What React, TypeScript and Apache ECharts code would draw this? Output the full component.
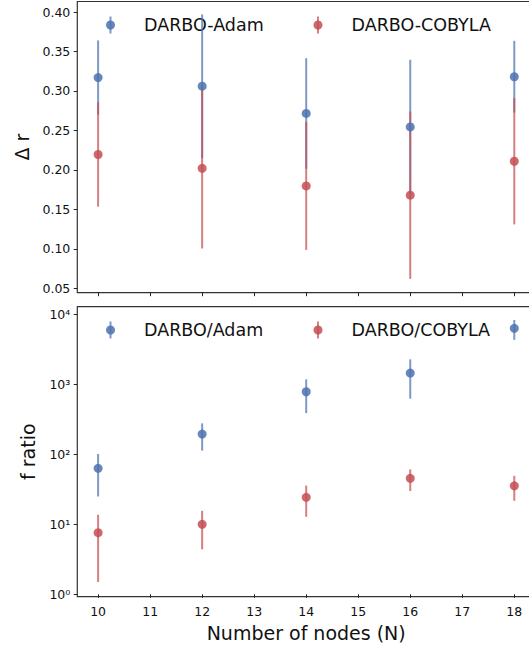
import React, { useEffect, useRef } from "react";
import * as echarts from "echarts";

const nodes = [10, 12, 14, 16, 18];
const adamDr = [0.317, 0.306, 0.2715, 0.2545, 0.318];
const adamDrErr = [0.047, 0.091, 0.07, 0.085, 0.0455];
const cobylaDr = [0.2195, 0.202, 0.1797, 0.168, 0.211];
const cobylaDrErr = [0.066, 0.1015, 0.081, 0.106, 0.08];

const adamF = [63, 195, 783, 1449, 6310];
const adamFErr = [38, 82, 395, 826, 1990];
const cobylaF = [7.6, 10, 24.3, 45.4, 35.5];
const cobylaFErr = [6.1, 5.6, 11.5, 15.5, 13.8];

const xTicks = [10, 11, 12, 13, 14, 15, 16, 17, 18];
const drTicks = [0.05, 0.1, 0.15, 0.2, 0.25, 0.3, 0.35, 0.4];
const logTicks = [0, 1, 2, 3, 4];
const supers = ["⁰", "¹", "²", "³", "⁴"];

const BLUE = "#4c72b0";
const RED = "#c44e52";
const FONT = "DejaVu Sans";

export default function App() {
  const ref = useRef<HTMLDivElement>(null);
  useEffect(() => {
    if (!ref.current) return;
    const chart = echarts.init(ref.current, undefined, { renderer: "svg" });

    const minorTicks: number[] = [];
    for (let n = 0; n <= 3; n++) {
      for (let k = 2; k <= 9; k++) minorTicks.push(Math.log10(k * Math.pow(10, n)));
    }

    const errSeries = (
      name: string,
      xi: number,
      yi: number,
      data: number[][],
      color: string
    ) => ({
      type: "custom",
      name,
      xAxisIndex: xi,
      yAxisIndex: yi,
      data,
      encode: { x: 0, y: [1, 2] },
      z: 2,
      renderItem: (params: any, api: any) => {
        const x = api.value(0);
        const p1 = api.coord([x, api.value(1)]);
        const p2 = api.coord([x, api.value(2)]);
        return {
          type: "line",
          shape: { x1: p1[0], y1: p1[1], x2: p2[0], y2: p2[1] },
          style: { stroke: color, lineWidth: 2, opacity: 0.72 },
        };
      },
    });

    const pts = (name: string, xi: number, yi: number, data: number[][], color: string) => ({
      type: "scatter",
      name,
      xAxisIndex: xi,
      yAxisIndex: yi,
      data,
      symbol: "circle",
      symbolSize: 9,
      itemStyle: { color, opacity: 0.85 },
      z: 3,
    });

    const lg = (v: number) => Math.log10(v);

    const xAxisBase = (gi: number, showLabels: boolean) => ({
      type: "value",
      gridIndex: gi,
      min: 9.6,
      max: 18.4,
      axisLine: { show: false },
      splitLine: { show: false },
      axisTick: {
        show: true,
        customValues: xTicks,
        length: 3.5,
        lineStyle: { color: "#222", width: 1 },
      },
      axisLabel: {
        show: showLabels,
        customValues: xTicks,
        margin: 8,
        fontFamily: FONT,
        fontSize: 12.5,
        color: "#111",
      },
    });

    const legendItem = (x: number, y: number, color: string, label: string) => ({
      type: "group",
      children: [
        {
          type: "line",
          shape: { x1: x, y1: y - 8.5, x2: x, y2: y + 8.5 },
          style: { stroke: color, lineWidth: 2, opacity: 0.72 },
        },
        {
          type: "circle",
          shape: { cx: x, cy: y, r: 4.5 },
          style: { fill: color, opacity: 0.85 },
        },
        {
          type: "text",
          x: x + 33.5,
          y: y,
          style: {
            text: label,
            fontFamily: FONT,
            fontSize: 17.5,
            fill: "#111",
            verticalAlign: "middle",
            align: "left",
          },
        },
      ],
    });

    const gridBase = {
      left: 77.3,
      width: 457.8,
      show: true,
      borderColor: "#333",
      borderWidth: 1.2,
      backgroundColor: "transparent",
      containLabel: false,
      outerBoundsMode: "none",
    };

    chart.setOption({
      animation: false,
      backgroundColor: "#ffffff",
      grid: [
        { ...gridBase, top: 1.5, height: 291.2 },
        { ...gridBase, top: 306.7, height: 290 },
      ],
      xAxis: [
        xAxisBase(0, false),
        {
          ...xAxisBase(1, true),
          name: "Number of nodes (N)",
          nameLocation: "middle",
          nameGap: 27,
          nameTextStyle: { fontFamily: FONT, fontSize: 19, color: "#111" },
        },
      ],
      yAxis: [
        {
          type: "value",
          gridIndex: 0,
          min: 0.0445,
          max: 0.4133,
          name: "Δ r",
          nameLocation: "middle",
          nameGap: 46,
          nameRotate: 90,
          nameTextStyle: { fontFamily: FONT, fontSize: 19, color: "#111" },
          axisLine: { show: false },
          splitLine: { show: false },
          axisTick: {
            show: true,
            customValues: drTicks,
            length: 3.5,
            lineStyle: { color: "#222", width: 1 },
          },
          axisLabel: {
            customValues: drTicks,
            margin: 7,
            fontFamily: FONT,
            fontSize: 12.5,
            color: "#111",
            formatter: (v: number) => v.toFixed(2),
          },
        },
        {
          type: "value",
          gridIndex: 1,
          min: -0.034,
          max: 4.109,
          name: "f ratio",
          nameLocation: "middle",
          nameGap: 40,
          nameRotate: 90,
          nameTextStyle: { fontFamily: FONT, fontSize: 19, color: "#111" },
          axisLine: { show: false },
          splitLine: { show: false },
          axisTick: {
            show: true,
            customValues: logTicks,
            length: 3.5,
            lineStyle: { color: "#222", width: 1 },
          },
          axisLabel: {
            customValues: logTicks,
            margin: 7,
            fontFamily: FONT,
            fontSize: 12.5,
            color: "#111",
            formatter: (v: number) => "10" + supers[Math.round(v)],
          },
        },
        {
          type: "value",
          gridIndex: 1,
          min: -0.034,
          max: 4.109,
          axisLine: { show: false },
          splitLine: { show: false },
          axisTick: {
            show: true,
            customValues: minorTicks,
            length: 2,
            lineStyle: { color: "#222", width: 0.8 },
          },
          axisLabel: { show: false, customValues: minorTicks },
        },
      ],
      graphic: [
        legendItem(110.5, 25, BLUE, "DARBO-Adam"),
        legendItem(318, 25, RED, "DARBO-COBYLA"),
        legendItem(110.5, 330, BLUE, "DARBO/Adam"),
        legendItem(318, 330, RED, "DARBO/COBYLA"),
      ],
      series: [
        errSeries(
          "DARBO-Adam err",
          0,
          0,
          nodes.map((n, i) => [n, adamDr[i] - adamDrErr[i], adamDr[i] + adamDrErr[i]]),
          BLUE
        ),
        pts("DARBO-Adam", 0, 0, nodes.map((n, i) => [n, adamDr[i]]), BLUE),
        errSeries(
          "DARBO-COBYLA err",
          0,
          0,
          nodes.map((n, i) => [n, cobylaDr[i] - cobylaDrErr[i], cobylaDr[i] + cobylaDrErr[i]]),
          RED
        ),
        pts("DARBO-COBYLA", 0, 0, nodes.map((n, i) => [n, cobylaDr[i]]), RED),
        errSeries(
          "DARBO/Adam err",
          1,
          1,
          nodes.map((n, i) => [n, lg(adamF[i] - adamFErr[i]), lg(adamF[i] + adamFErr[i])]),
          BLUE
        ),
        pts("DARBO/Adam", 1, 1, nodes.map((n, i) => [n, lg(adamF[i])]), BLUE),
        errSeries(
          "DARBO/COBYLA err",
          1,
          1,
          nodes.map((n, i) => [n, lg(cobylaF[i] - cobylaFErr[i]), lg(cobylaF[i] + cobylaFErr[i])]),
          RED
        ),
        pts("DARBO/COBYLA", 1, 1, nodes.map((n, i) => [n, lg(cobylaF[i])]), RED),
      ],
    });

    return () => chart.dispose();
  }, []);

  return (
    <div
      ref={ref}
      style={{ position: "fixed", left: 0, top: 0, width: 529, height: 646 }}
    />
  );
}
